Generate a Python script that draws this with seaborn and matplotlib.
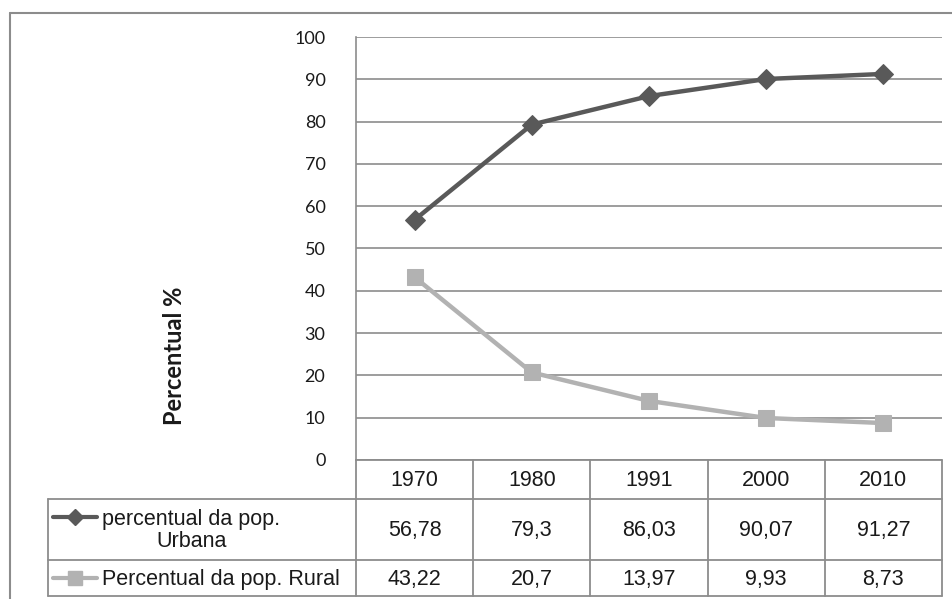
import matplotlib
matplotlib.use("Agg")
import matplotlib.pyplot as plt
import matplotlib.transforms as mtransforms
from matplotlib.lines import Line2D
import numpy as np
import pandas as pd
import seaborn as sns

sns.set_theme(style="white")

# --- Data ---
anos = ["1970", "1980", "1991", "2000", "2010"]
urbana = [56.78, 79.3, 86.03, 90.07, 91.27]
rural = [43.22, 20.7, 13.97, 9.93, 8.73]
urbana_txt = ["56,78", "79,3", "86,03", "90,07", "91,27"]
rural_txt = ["43,22", "20,7", "13,97", "9,93", "8,73"]
nome_urbana = "percentual da pop.\nUrbana"
nome_rural = "Percentual da pop. Rural"

COR_URB = "#595959"
COR_RUR = "#b2b2b2"
COR_GRADE = "#8c8c8c"
FONTE_TAB = "Liberation Sans"
TAM_TAB = 15.5

W, H = 952, 599
fig = plt.figure(figsize=(W / 100, H / 100), dpi=100)

# plot area in pixels (left, top, right, bottom)
L, T, R, B = 356, 37, 942, 460
ax = fig.add_axes([L / W, 1 - B / H, (R - L) / W, (B - T) / H])

df = pd.DataFrame({"pos": np.arange(len(anos)), "urbana": urbana, "rural": rural})
sns.lineplot(data=df, x="pos", y="urbana", ax=ax, color=COR_URB, lw=3.2,
             marker="D", markersize=10, markeredgecolor=COR_URB)
sns.lineplot(data=df, x="pos", y="rural", ax=ax, color=COR_RUR, lw=3.2,
             marker="s", markersize=12, markeredgecolor=COR_RUR)

ax.set_xlim(-0.5, len(anos) - 0.5)
ax.set_ylim(0, 100)
ax.set_yticks(range(0, 101, 10))
ax.set_xticks([])
ax.set_xlabel("")
ax.set_ylabel("")
ax.grid(axis="y", color=COR_GRADE, lw=1.2)
ax.set_axisbelow(True)
for s in ["top", "right", "bottom"]:
    ax.spines[s].set_visible(False)
ax.spines["left"].set_color(COR_GRADE)
ax.spines["left"].set_linewidth(1.2)
ax.tick_params(axis="y", length=0, pad=22, labelsize=13, labelcolor="#1a1a1a")
for lb in ax.get_yticklabels():
    lb.set_fontfamily("Lato")

fig.text(175 / W, 1 - 356 / H, "Percentual %", rotation=90, ha="center", va="center",
         fontsize=17, fontweight="bold", fontfamily="Lato", color="#1a1a1a")

# --- Data table under the chart ---
px = mtransforms.Affine2D().scale(1 / W, -1 / H).translate(0, 1) + fig.transFigure
bx = mtransforms.blended_transform_factory(ax.transData, px)

TAB_L = 48
ROW = [460, 499, 560, 596]
kw = dict(color=COR_GRADE, lw=1.3, clip_on=False)

# horizontal lines
fig.add_artist(Line2D([L, R], [ROW[0], ROW[0]], transform=px, **kw))
for y in ROW[1:]:
    fig.add_artist(Line2D([TAB_L, R], [y, y], transform=px, **kw))
# vertical lines
fig.add_artist(Line2D([TAB_L, TAB_L], [ROW[1], ROW[3]], transform=px, **kw))
for i in range(len(anos) + 1):
    xb = i - 0.5
    fig.add_artist(Line2D([xb, xb], [ROW[0], ROW[3]], transform=bx, **kw))

tkw = dict(ha="center", va="center", fontsize=TAM_TAB, fontfamily=FONTE_TAB, color="#1a1a1a")
for i, a in enumerate(anos):
    fig.text(i, (ROW[0] + ROW[1]) / 2 + 1, a, transform=bx, **tkw)
    fig.text(i, (ROW[1] + ROW[2]) / 2 + 1, urbana_txt[i], transform=bx, **tkw)
    fig.text(i, (ROW[2] + ROW[3]) / 2 + 1, rural_txt[i], transform=bx, **tkw)

# legend keys in the row labels
yu = 517
yr = (ROW[2] + ROW[3]) / 2
fig.add_artist(Line2D([53, 75, 97], [yu, yu, yu], transform=px, color=COR_URB, lw=3,
                      marker="D", markersize=8, markevery=[1], clip_on=False))
fig.add_artist(Line2D([53, 75, 97], [yr, yr, yr], transform=px, color=COR_RUR, lw=3,
                      marker="s", markersize=10, markevery=[1], clip_on=False))
fig.text(102, (ROW[1] + ROW[2]) / 2 + 1, nome_urbana, transform=px, ha="left", va="center",
         multialignment="center", fontsize=TAM_TAB, fontfamily=FONTE_TAB,
         color="#1a1a1a", linespacing=1.12)
fig.text(102, yr + 1, nome_rural, transform=px, ha="left", va="center", fontsize=TAM_TAB,
         fontfamily=FONTE_TAB, color="#1a1a1a")

# outer chart border
fig.add_artist(Line2D([10, W], [13, 13], transform=px, color=COR_GRADE, lw=1.5))
fig.add_artist(Line2D([10, 10], [13, H], transform=px, color=COR_GRADE, lw=1.5))

fig.savefig("out.png", dpi=100)
